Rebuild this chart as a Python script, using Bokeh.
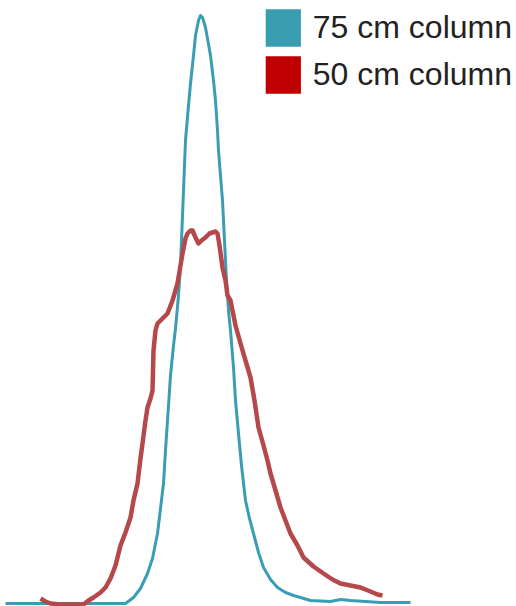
from bokeh.plotting import figure
from bokeh.models import Range1d, Legend, LegendItem
from bokeh.embed import file_html
from bokeh.resources import INLINE

nan = float("nan")

# 75 cm column (teal) - position / intensity
x75 = [5, 40, 80, 110, 125, 133, 140, 147, 152, 157, 160, 163, 165, 168, 170, 173, 175, 178,
       180, 182, 183, 185, 188, 190, 193, 195, 198, 200, 202, 205, 207, 210, 213, 215, 217, 218,
       220, 222, 224, 226, 228, 230, 233, 235, 238, 241, 245, 249, 253, 258, 263, 270, 277, 285,
       293, 300, 310, 330, 340, 350, 365, 380, 400, 410]
y75 = [3, 3, 3, 3, 3, 9, 18, 33, 48, 73, 98, 123, 156, 201, 231, 261, 278, 311,
       341, 391, 416, 466, 501, 523, 551, 571, 586, 591, 589, 579, 568, 551, 526, 506, 476, 456,
       431, 406, 366, 326, 296, 276, 239, 206, 173, 141, 106, 88, 73, 54, 39, 27, 19, 14,
       11, 9, 6, 5, 7, 6, 5, 4, 4, 4]

# 50 cm column (red)
x50 = [40, 45, 50, 60, 75, 83, 88, 93, 100, 105, 110, 115, 120, 125, 130, 133, 137, 140, 142,
       145, 147, 150, 152, 153, 155, 157, 162, 167, 172, 177, 180, 182, 185, 187, 190, 192, 195,
       198, 201, 205, 209, 212, 215, 217, 219, 222, 225, 227, 230, 235, 240, 245, 250, 254, 258,
       263, 267, 270, 275, 280, 285, 290, 297, 303, 313, 323, 332, 340, 350, 360, 370, 377, 382]
y50 = [8, 5, 3, 2, 2, 2, 6, 9, 14, 19, 28, 41, 61, 74, 89, 106, 123, 148, 163,
       186, 199, 208, 216, 256, 276, 283, 288, 293, 306, 323, 341, 353, 368, 373, 376, 376, 369,
       363, 366, 369, 373, 374, 375, 373, 361, 339, 326, 311, 306, 281, 263, 246, 229, 206, 179,
       161, 146, 133, 116, 99, 86, 73, 61, 49, 40, 33, 27, 23, 21, 19, 15, 12, 11]

labels = ["75 cm column", "50 cm column"]
line_colors = ["#3a9db4", "#b5484a"]
legend_colors = ["#3a9cb0", "#c00000"]

p = figure(width=516, height=606, output_backend="svg", toolbar_location=None,
           x_range=Range1d(0, 516), y_range=Range1d(0, 606),
           min_border=0, min_border_left=0, min_border_right=0,
           min_border_top=0, min_border_bottom=0)
p.axis.visible = False
p.grid.visible = False
p.outline_line_color = None
p.background_fill_color = "white"
p.border_fill_color = "white"

p.line(x75, y75, line_color=line_colors[0], line_width=3, line_join="round")
p.line(x50, y50, line_color=line_colors[1], line_width=4.5, line_join="round")

# legend-only swatches (no visible data)
r1 = p.quad(left=[nan], right=[nan], top=[nan], bottom=[nan],
            fill_color=legend_colors[0], line_color=None)
r2 = p.quad(left=[nan], right=[nan], top=[nan], bottom=[nan],
            fill_color=legend_colors[1], line_color=None)

legend = Legend(items=[LegendItem(label=labels[0], renderers=[r1]),
                       LegendItem(label=labels[1], renderers=[r2])],
                location="top_right", glyph_width=44, glyph_height=47,
                label_text_font="Liberation Sans", label_text_font_size="32px",
                label_text_color="#222222", label_standoff=8, spacing=0,
                padding=0, margin=4, border_line_color=None,
                background_fill_alpha=0)
p.add_layout(legend)

open("out.html", "w").write(file_html(p, INLINE))
